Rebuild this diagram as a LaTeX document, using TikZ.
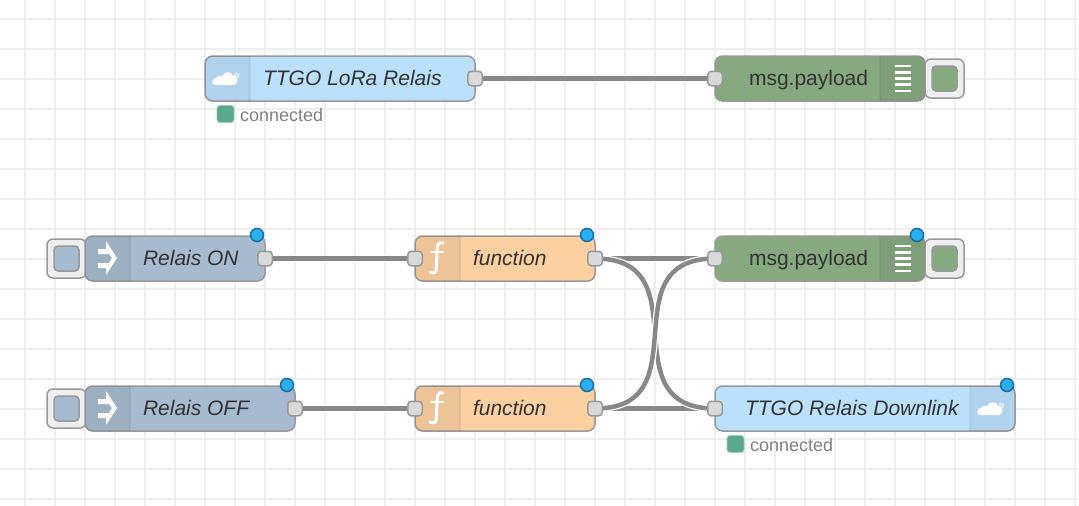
\documentclass[tikz,border=0pt]{standalone}
\usepackage{fontspec}
\setmainfont{Liberation Sans}
\usetikzlibrary{calc}
\pgfdeclarelayer{gridlayer}
\pgfdeclarelayer{wirelayer}
\pgfsetlayers{gridlayer,wirelayer,main}
\definecolor{gridc}{HTML}{EEEEEE}
\definecolor{edgec}{HTML}{999999}
\definecolor{wirec}{HTML}{888888}
\definecolor{portc}{HTML}{D9D9D9}
\definecolor{injectc}{HTML}{A6BBCF}
\definecolor{funcc}{HTML}{FDD0A2}
\definecolor{debugc}{HTML}{87A980}
\definecolor{cloudc}{HTML}{BBE0FC}
\definecolor{textc}{HTML}{333333}
\definecolor{statc}{HTML}{5BA88A}
\definecolor{dotc}{HTML}{2BAEF2}
\definecolor{dotedge}{HTML}{1A6E9E}
\tikzset{
  x=1pt,y=-1pt,
  nodebody/.style={draw=edgec,line width=1.5pt,rounded corners=7.5pt,inner sep=0,outer sep=0,anchor=north west,minimum height=45pt},
  portbox/.style={draw=edgec,fill=portc,line width=1.5pt,rounded corners=3.5pt,minimum width=14.5pt,minimum height=14.5pt,inner sep=0,outer sep=0},
  btnbox/.style={draw=edgec,fill=gridc,line width=1.5pt,rounded corners=6pt,inner sep=0,outer sep=0,minimum height=39pt},
  btnsq/.style={draw=edgec,line width=1.5pt,rounded corners=4pt,inner sep=0,outer sep=0,minimum width=25pt,minimum height=25pt},
  lab/.style={anchor=base west,inner sep=0,outer sep=0,text=textc,font=\fontsize{21}{21}\selectfont},
  ilab/.style={lab,font=\fontsize{21}{21}\selectfont\itshape},
  statlab/.style={anchor=base west,inner sep=0,outer sep=0,text=black!50,font=\fontsize{18}{18}\selectfont},
  statsq/.style={fill=statc,draw=statc!60!white,line width=.8pt,rounded corners=3pt,minimum width=17pt,minimum height=17pt,inner sep=0,outer sep=0},
  dirty/.style={circle,fill=dotc,draw=dotedge,line width=1.5pt,minimum size=13pt,inner sep=0,outer sep=0},
  wirebg/.style={draw=white,line width=7pt},
  wirefg/.style={draw=wirec,line width=4.5pt},
  shade/.style={fill=black,fill opacity=.06},
  sep/.style={draw=black,draw opacity=.05,line width=1.5pt},
  iconw/.style={fill=white,draw=none},
}
\newcommand{\bandL}[3]{\fill[shade] (#2,#3) -- (#1+7.5,#3) arc[start angle=-90,end angle=-180,x radius=7.5pt,y radius=-7.5pt] -- (#1,#3+37.5) arc[start angle=180,end angle=90,x radius=7.5pt,y radius=-7.5pt] -- (#2,#3+45) -- cycle;
  \draw[sep] (#2,#3) -- (#2,#3+45);}
\newcommand{\bandR}[3]{\fill[shade] (#1,#3) -- (#2-7.5,#3) arc[start angle=90,end angle=0,x radius=7.5pt,y radius=7.5pt] -- (#2,#3+37.5) arc[start angle=0,end angle=-90,x radius=7.5pt,y radius=7.5pt] -- (#1,#3+45) -- cycle;
  \draw[sep] (#1,#3) -- (#1,#3+45);}
\newcommand{\cloudicon}[2]{\begin{scope}[shift={(#1,#2)}]
  \fill[iconw] (-11,7) .. controls (-16,7) and (-16,1) .. (-11,0) .. controls (-10,-2) and (-7,-3) .. (-5,-2) .. controls (-3,-7) and (5,-7) .. (6,-2) .. controls (10,-2) and (11,2) .. (10,4) .. controls (9,6) and (8,7) .. (6,7) -- cycle;
  \fill[iconw,opacity=.5] (9.5,-2.5) circle[radius=3pt];
  \end{scope}}
\newcommand{\injecticon}[2]{\begin{scope}[shift={(#1,#2)}]
  \fill[iconw] (-9,-9) -- (-1,-9) -- (-1,-17) -- (10,0) -- (-1,17) -- (-1,10) -- (-9,10) -- (-9,5) -- (2,5) -- (5,0) -- (2,-4) -- (-9,-4) -- cycle;
  \end{scope}}
\newcommand{\funcicon}[2]{\begin{scope}[shift={(#1,#2)}]
  \draw[white,line width=3pt,line cap=round] (5,-16) .. controls (0,-18) and (-1,-13) .. (-1,-7) -- (-1.5,7) .. controls (-1.5,14) and (-4,15) .. (-8,13);
  \draw[white,line width=2.4pt,line cap=round] (-7,-7) -- (5,-7);
  \end{scope}}
\newcommand{\debugicon}[2]{\begin{scope}[shift={(#1,#2)},line width=2.6pt,white]
  \foreach \dy in {-12.5,-6.25,0,6.25,12.5} {\draw (-8,\dy) -- (8,\dy);}
  \end{scope}}
\begin{document}
\begin{tikzpicture}
\useasboundingbox (0,0) rectangle (1079,506);
\begin{pgfonlayer}{gridlayer}
\fill[white] (0,0) rectangle (1079,506);
\foreach \gx in {25,55,...,1075} {\draw[gridc,line width=2pt] (\gx,0) -- (\gx,506);}
\foreach \gy in {19,49,...,499} {\draw[gridc,line width=2pt] (0,\gy) -- (1079,\gy);}
\end{pgfonlayer}

% --- row 1
\node[nodebody,fill=cloudc,minimum width=270pt] (cloudin) at (205,56) {};
\bandL{205}{250}{56}
\cloudicon{227}{78}
\node[ilab] (cloudinlab) at (263,85) {TTGO LoRa Relais};
\node[portbox] (cloudinout) at (475,78.5) {};
\node[statsq] (st1) at (225.5,114) {};
\node[statlab] (st1lab) at (240,121) {connected};

\node[btnbox,minimum width=39pt] (dbg1btn) at (944.5,78.5) {};
\node[btnsq,fill=debugc] (dbg1sq) at (944.5,78.5) {};
\node[nodebody,fill=debugc,minimum width=210pt] (dbg1) at (715,56) {};
\bandR{880}{925}{56}
\debugicon{902.5}{78.5}
\node[lab] (dbg1lab) at (749,85) {msg.payload};
\node[portbox] (dbg1in) at (715,78.5) {};

% --- row 2
\node[btnbox,minimum width=39pt] (inj1btn) at (66.5,258.5) {};
\node[btnsq,fill=injectc] (inj1sq) at (66.5,258.5) {};
\node[nodebody,fill=injectc,minimum width=180pt] (inj1) at (85,236) {};
\bandL{85}{130}{236}
\injecticon{107}{258}
\node[ilab] (inj1lab) at (143,265) {Relais ON};
\node[portbox] (inj1out) at (265,258.5) {};
\node[dirty] (inj1dot) at (257,235) {};

\node[nodebody,fill=funcc,minimum width=180pt] (fn1) at (415,236) {};
\bandL{415}{460}{236}
\funcicon{438}{259}
\node[ilab] (fn1lab) at (473,265) {function};
\node[portbox] (fn1in) at (415,258.5) {};
\node[portbox] (fn1out) at (595,258.5) {};
\node[dirty] (fn1dot) at (587,235) {};

\node[btnbox,minimum width=39pt] (dbg2btn) at (944.5,258.5) {};
\node[btnsq,fill=debugc] (dbg2sq) at (944.5,258.5) {};
\node[nodebody,fill=debugc,minimum width=210pt] (dbg2) at (715,236) {};
\bandR{880}{925}{236}
\debugicon{902.5}{258.5}
\node[lab] (dbg2lab) at (749,265) {msg.payload};
\node[portbox] (dbg2in) at (715,258.5) {};
\node[dirty] (dbg2dot) at (917,235) {};

% --- row 3
\node[btnbox,minimum width=39pt] (inj2btn) at (66.5,408.5) {};
\node[btnsq,fill=injectc] (inj2sq) at (66.5,408.5) {};
\node[nodebody,fill=injectc,minimum width=210pt] (inj2) at (85,386) {};
\bandL{85}{130}{386}
\injecticon{107}{408}
\node[ilab] (inj2lab) at (143,415) {Relais OFF};
\node[portbox] (inj2out) at (295,408.5) {};
\node[dirty] (inj2dot) at (287,385) {};

\node[nodebody,fill=funcc,minimum width=180pt] (fn2) at (415,386) {};
\bandL{415}{460}{386}
\funcicon{438}{409}
\node[ilab] (fn2lab) at (473,415) {function};
\node[portbox] (fn2in) at (415,408.5) {};
\node[portbox] (fn2out) at (595,408.5) {};
\node[dirty] (fn2dot) at (587,385) {};

\node[nodebody,fill=cloudc,minimum width=300pt] (cloudout) at (715,386) {};
\bandR{970}{1015}{386}
\cloudicon{992}{408}
\node[ilab] (cloudoutlab) at (745,415) {TTGO Relais Downlink};
\node[portbox] (cloudoutin) at (715,408.5) {};
\node[dirty] (cloudoutdot) at (1007,385) {};
\node[statsq] (st2) at (735.5,444) {};
\node[statlab] (st2lab) at (750,451) {connected};

% --- wires
\begin{pgfonlayer}{wirelayer}
\draw[wirebg] (cloudinout.center) -- (dbg1in.center);
\draw[wirefg] (cloudinout.center) -- (dbg1in.center);
\draw[wirebg] (inj1out.center) -- (fn1in.center);
\draw[wirefg] (inj1out.center) -- (fn1in.center);
\draw[wirebg] (inj2out.center) -- (fn2in.center);
\draw[wirefg] (inj2out.center) -- (fn2in.center);
\draw[wirebg] (fn1out.center) -- (dbg2in.center);
\draw[wirefg] (fn1out.center) -- (dbg2in.center);
\draw[wirebg] (fn2out.center) -- (cloudoutin.center);
\draw[wirefg] (fn2out.center) -- (cloudoutin.center);
\draw[wirebg] (fn1out.center) .. controls ($(fn1out.center)+(108,0)$) and ($(cloudoutin.center)+(-108,0)$) .. (cloudoutin.center);
\draw[wirefg] (fn1out.center) .. controls ($(fn1out.center)+(108,0)$) and ($(cloudoutin.center)+(-108,0)$) .. (cloudoutin.center);
\draw[wirebg] (fn2out.center) .. controls ($(fn2out.center)+(108,0)$) and ($(dbg2in.center)+(-108,0)$) .. (dbg2in.center);
\draw[wirefg] (fn2out.center) .. controls ($(fn2out.center)+(108,0)$) and ($(dbg2in.center)+(-108,0)$) .. (dbg2in.center);
\end{pgfonlayer}
\end{tikzpicture}
\end{document}
